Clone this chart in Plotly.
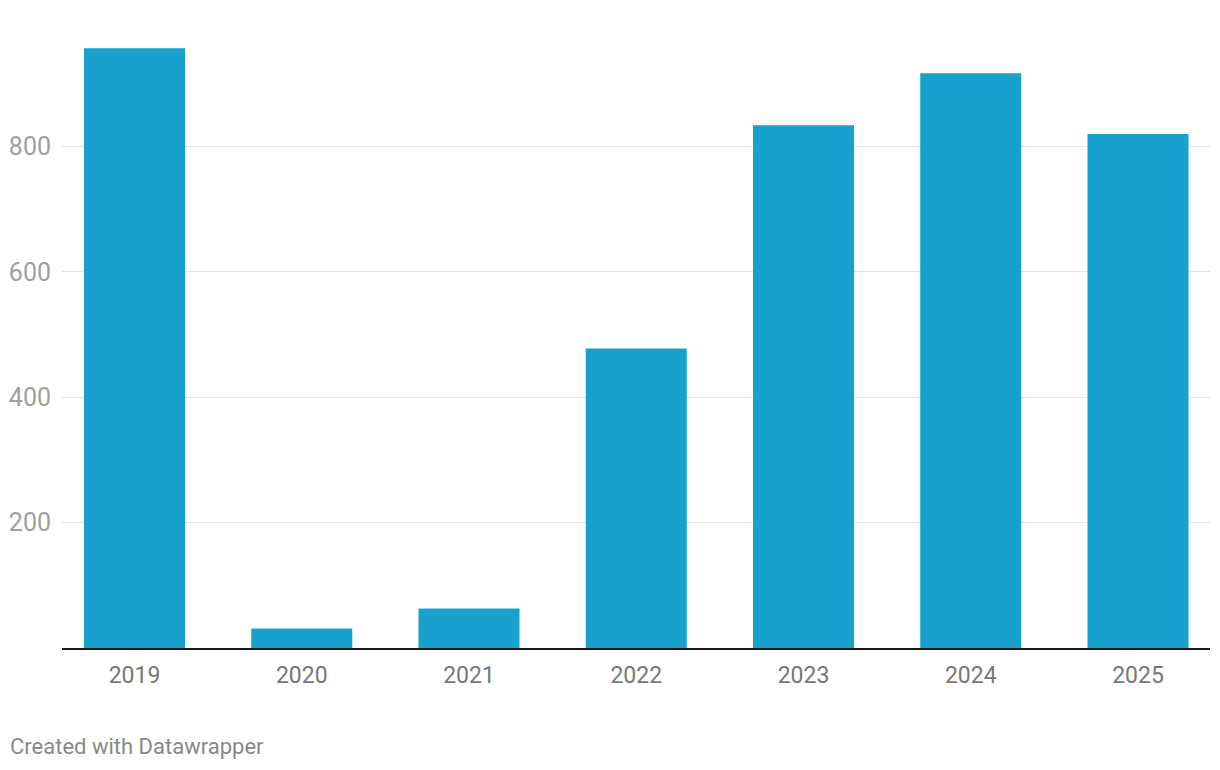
import plotly.graph_objects as go

years = ["2019", "2020", "2021", "2022", "2023", "2024", "2025"]
values = [957, 31, 63, 478, 834, 917, 820]
y_ticks = [200, 400, 600, 800]

# page body has an 8px offset; figure sized/margined to compensate
W, H = 1212, 754
L, R, T, B = 54, 10, 12, 114
plot_h = H - T - B
plot_w = W - L - R

fig = go.Figure()
fig.add_trace(go.Bar(
    x=years, y=values, width=0.604,
    marker=dict(color="#18a1cd", line=dict(width=0)),
    hoverinfo="skip",
))

fig.update_layout(
    width=W, height=H,
    margin=dict(l=L, r=R, t=T, b=B, autoexpand=False),
    paper_bgcolor="white", plot_bgcolor="white",
    font=dict(family="Roboto", size=23),
    showlegend=False,
    xaxis=dict(
        type="category",
        range=[-0.4335, 6.4305],
        showgrid=False, automargin=False,
        showline=True, linecolor="#1a1a1a", linewidth=2,
        ticks="", tickfont=dict(color="#777777", size=23, family="Roboto"),
        ticklabelstandoff=5,
    ),
    yaxis=dict(
        range=[0, plot_h / 0.6268],
        tickvals=y_ticks, automargin=False,
        showgrid=True, gridcolor="#e3e3e3", gridwidth=1,
        zeroline=False, showline=False,
        ticks="", tickfont=dict(color="#a0a0a0", size=25, family="Roboto"),
        ticklabelstandoff=10,
    ),
    annotations=[dict(
        text="Created with Datawrapper", xref="paper", yref="paper",
        x=-(L - 0) / plot_w, y=-(746 - 647.7) / plot_h, xanchor="left", yanchor="middle",
        showarrow=False, font=dict(family="Roboto", size=22, color="#888888"),
    )],
)

fig.write_html("out.html")
